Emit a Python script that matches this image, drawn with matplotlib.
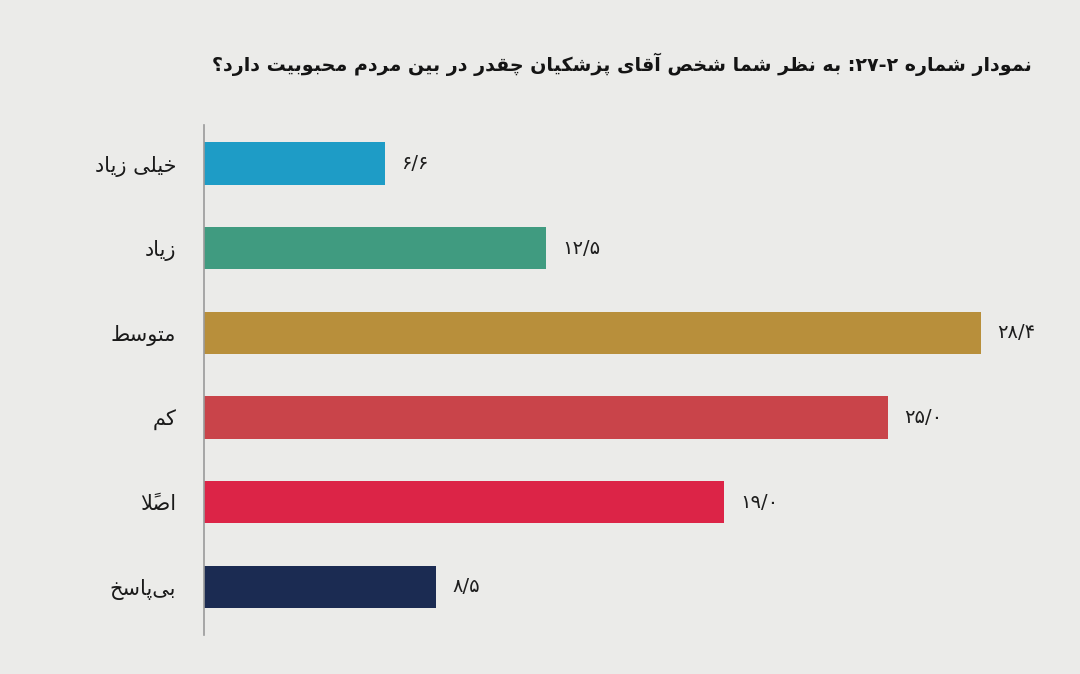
import matplotlib.pyplot as plt

# Chart data (Persian survey question)
title = 'نمودار شماره ۲-۲۷: به نظر شما شخص آقای پزشکیان چقدر در بین مردم محبوبیت دارد؟'
categories = ['خیلی زیاد', 'زیاد', 'متوسط', 'کم', 'اصلاً', 'بی\u200cپاسخ']
values = [6.6, 12.5, 28.4, 25.0, 19.0, 8.5]
colors = ['#1e9cc6', '#409b80', '#b88f3b', '#c9444a', '#dc2447', '#1b2b52']

# Minimal Arabic/Persian shaping: (isolated, final, initial, medial)
FORMS = {
    'ا': ('\uFE8D', '\uFE8E', None, None),
    'آ': ('\uFE81', '\uFE82', None, None),
    'ب': ('\uFE8F', '\uFE90', '\uFE91', '\uFE92'),
    'پ': ('\uFB56', '\uFB57', '\uFB58', '\uFB59'),
    'ت': ('\uFE95', '\uFE96', '\uFE97', '\uFE98'),
    'ح': ('\uFEA1', '\uFEA2', '\uFEA3', '\uFEA4'),
    'خ': ('\uFEA5', '\uFEA6', '\uFEA7', '\uFEA8'),
    'چ': ('\uFB7A', '\uFB7B', '\uFB7C', '\uFB7D'),
    'د': ('\uFEA9', '\uFEAA', None, None),
    'ر': ('\uFEAD', '\uFEAE', None, None),
    'ز': ('\uFEAF', '\uFEB0', None, None),
    'س': ('\uFEB1', '\uFEB2', '\uFEB3', '\uFEB4'),
    'ش': ('\uFEB5', '\uFEB6', '\uFEB7', '\uFEB8'),
    'ص': ('\uFEB9', '\uFEBA', '\uFEBB', '\uFEBC'),
    'ط': ('\uFEC1', '\uFEC2', '\uFEC3', '\uFEC4'),
    'ظ': ('\uFEC5', '\uFEC6', '\uFEC7', '\uFEC8'),
    'ق': ('\uFED5', '\uFED6', '\uFED7', '\uFED8'),
    'ک': ('\uFB8E', '\uFB8F', '\uFB90', '\uFB91'),
    'ل': ('\uFEDD', '\uFEDE', '\uFEDF', '\uFEE0'),
    'م': ('\uFEE1', '\uFEE2', '\uFEE3', '\uFEE4'),
    'ن': ('\uFEE5', '\uFEE6', '\uFEE7', '\uFEE8'),
    'ه': ('\uFEE9', '\uFEEA', '\uFEEB', '\uFEEC'),
    'و': ('\uFEED', '\uFEEE', None, None),
    'ی': ('\uFBFC', '\uFBFD', '\uFBFE', '\uFBFF'),
    '\uE000': ('\uFEFB', '\uFEFC', None, None),  # lam-alef
}
MARKS = {'\u064B'}
DIGITS = set('۰۱۲۳۴۵۶۷۸۹')


def fa(text):
    s = text.replace('لا', '\uE000')
    out = []
    for i, c in enumerate(s):
        if c not in FORMS:
            out.append(c)
            continue
        j = i - 1
        while j >= 0 and s[j] in MARKS:
            j -= 1
        k = i + 1
        while k < len(s) and s[k] in MARKS:
            k += 1
        prev_join = j >= 0 and s[j] in FORMS and FORMS[s[j]][2] is not None
        next_join = FORMS[c][2] is not None and k < len(s) and s[k] in FORMS
        iso, fin, ini, med = FORMS[c]
        if prev_join and next_join:
            out.append(med)
        elif prev_join:
            out.append(fin)
        elif next_join:
            out.append(ini)
        else:
            out.append(iso)
    out = [c for c in out if c != '\u200c']
    vis = out[::-1]
    # keep marks after their base, digit runs left-to-right
    res = []
    i = 0
    while i < len(vis):
        if vis[i] in MARKS and i + 1 < len(vis):
            res.extend([vis[i + 1], vis[i]])
            i += 2
        elif vis[i] in DIGITS:
            k = i
            while k < len(vis) and vis[k] in DIGITS:
                k += 1
            res.extend(vis[i:k][::-1])
            i = k
        else:
            res.append(vis[i])
            i += 1
    return ''.join(res)


def fa_num(v):
    s = f'{v:.1f}'.replace('.', '/')
    return s.translate(str.maketrans('0123456789', '۰۱۲۳۴۵۶۷۸۹'))


plt.rcParams['font.family'] = 'DejaVu Sans'

fig = plt.figure(figsize=(10.8, 6.74), dpi=100, facecolor='#ebebe9')
ax = fig.add_axes([0.189, 0.058, 0.81, 0.757])
ax.set_facecolor('#ebebe9')

y = list(range(len(categories)))
ax.barh(y, values, height=0.5, color=colors, zorder=2)

ax.set_xlim(0, 32)
ax.set_ylim(5.57, -0.46)

for yi, v in zip(y, values):
    ax.text(v + 0.6, yi, fa_num(v), va='center', ha='left',
            fontsize=14, color='#1e1e1e')

ax.set_yticks(y)
ax.set_yticklabels([fa(c) for c in categories], fontsize=15, color='#1a1a1a')
ax.tick_params(axis='y', length=0, pad=20)
ax.set_xticks([])
for side in ['top', 'right', 'bottom']:
    ax.spines[side].set_visible(False)
ax.spines['left'].set_color('#9a9a9a')
ax.spines['left'].set_linewidth(1.2)

fig.text(0.955, 0.905, fa(title), ha='right', va='center',
         fontsize=13.7, fontweight='bold', color='#141414')

fig.savefig('out.png', dpi=100, facecolor=fig.get_facecolor())
